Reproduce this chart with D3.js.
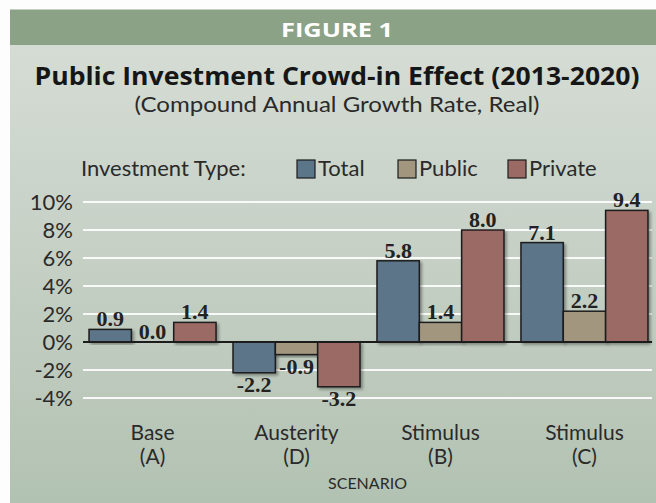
<!DOCTYPE html>
<html><head><meta charset="utf-8">
<script src="https://cdn.jsdelivr.net/npm/d3@7"></script>
<style>html,body{margin:0;padding:0;background:#fdfdfd;}svg{display:block;}</style>
</head><body>
<svg id="chart" width="656" height="503"></svg>
<script>
const categoryNames = ["Base", "Austerity", "Stimulus", "Stimulus"];
const categoryCodes = ["(A)", "(D)", "(B)", "(C)"];
const seriesNames = ["Total", "Public", "Private"];
const totalValues = [0.9, -2.2, 5.8, 7.1];
const publicValues = [0.0, -0.9, 1.4, 2.2];
const privateValues = [1.4, -3.2, 8.0, 9.4];
const yTickValues = [-4, -2, 0, 2, 4, 6, 8, 10];
const seriesColors = ["#5b7589", "#a2967f", "#9b6a65"];

const seriesValues = [totalValues, publicValues, privateValues];
const svg = d3.select("#chart");
const defs = svg.append("defs");
const grad = defs.append("linearGradient").attr("id","bg").attr("x1",0).attr("y1",0).attr("x2",0).attr("y2",1);
grad.append("stop").attr("offset","0%").attr("stop-color","#d7ded7");
grad.append("stop").attr("offset","50%").attr("stop-color","#c6d0c5");
grad.append("stop").attr("offset","100%").attr("stop-color","#b2c2b2");
const f = defs.append("filter").attr("id","sh").attr("x","-20%").attr("y","-20%").attr("width","140%").attr("height","140%");
f.append("feDropShadow").attr("dx",2).attr("dy",2).attr("stdDeviation",1.5).attr("flood-color","#000").attr("flood-opacity",0.35);

// panel
svg.append("rect").attr("x",10).attr("y",10).attr("width",646).attr("height",493).attr("fill","url(#bg)");
svg.append("rect").attr("x",10).attr("y",9.5).attr("width",646).attr("height",35.5).attr("fill","#8ca287");

const cx = 337;
const sans = "Lato, 'Open Sans', sans-serif";
svg.append("text").attr("x",cx).attr("y",37).attr("text-anchor","middle")
  .attr("font-family","'Open Sans', sans-serif").attr("font-weight",700).attr("font-size",20)
  .attr("fill","#fff").attr("textLength",112).attr("lengthAdjust","spacingAndGlyphs").text("FIGURE 1");
svg.append("text").attr("x",cx).attr("y",85).attr("text-anchor","middle")
  .attr("font-family","'Open Sans', sans-serif").attr("font-weight",700).attr("font-size",25)
  .attr("fill","#161616").attr("textLength",605).attr("lengthAdjust","spacingAndGlyphs")
  .text("Public Investment Crowd-in Effect (2013-2020)");
svg.append("text").attr("x",cx).attr("y",112).attr("text-anchor","middle")
  .attr("font-family",sans).attr("font-size",21).attr("fill","#2a2a2a")
  .attr("textLength",405).attr("lengthAdjust","spacingAndGlyphs")
  .text("(Compound Annual Growth Rate, Real)");

// scales
const y = d3.scaleLinear().domain([-4, 10]).range([398, 202]);
const x0 = d3.scaleBand().domain(d3.range(categoryNames.length)).range([83, 654]).paddingInner(0.118).paddingOuter(0.042);
const x1 = d3.scaleBand().domain(d3.range(seriesNames.length)).range([0, x0.bandwidth()]);
const gridX0 = 83, gridX1 = 652;

// grid
const yAxis = d3.axisLeft(y).tickValues(yTickValues).tickSize(0).tickPadding(10).tickFormat(d => d + "%");
const ga = svg.append("g").attr("transform",`translate(${gridX0},0)`).call(yAxis);
ga.select(".domain").remove();
ga.selectAll("text").attr("font-family",sans).attr("font-size",22).attr("fill","#2a2a2a").attr("dy","0.35em");
svg.append("g").selectAll("line").data(yTickValues.filter(d => d !== 0)).join("line")
  .attr("x1",gridX0).attr("x2",gridX1).attr("y1",d=>y(d)).attr("y2",d=>y(d))
  .attr("stroke","#fff").attr("stroke-width",1.8).attr("opacity",0.9);

// bars
const groups = svg.append("g").selectAll("g").data(d3.range(categoryNames.length)).join("g")
  .attr("transform", i => `translate(${x0(i)},0)`);
groups.selectAll("rect").data(i => seriesValues.map((s, j) => ({j, v: s[i]}))).join("rect")
  .attr("x", d => x1(d.j)).attr("width", x1.bandwidth())
  .attr("y", d => y(Math.max(0, d.v))).attr("height", d => Math.abs(y(d.v) - y(0)))
  .attr("fill", d => seriesColors[d.j]).attr("stroke","#1c1c1c").attr("stroke-width",1.5)
  .attr("filter","url(#sh)");

// zero line
svg.append("line").attr("x1",gridX0).attr("x2",gridX1).attr("y1",y(0)).attr("y2",y(0))
  .attr("stroke","#1c1c1c").attr("stroke-width",2);

// value labels
groups.selectAll("text.val").data(i => seriesValues.map((s, j) => ({j, v: s[i]}))).join("text")
  .attr("class","val")
  .attr("x", d => x1(d.j) + x1.bandwidth()/2)
  .attr("y", d => d.v >= 0 ? y(d.v) - 3 : y(d.v) + 19)
  .attr("text-anchor","middle").attr("font-family","'Liberation Serif', serif").attr("font-weight",700)
  .attr("font-size",22).attr("fill","#222")
  .text(d => d.v.toFixed(1));

// legend
const lg = svg.append("g");
lg.append("text").attr("x",81).attr("y",176).attr("font-family",sans).attr("font-size",22).attr("fill","#2a2a2a").text("Investment Type:");
const legendX = [297, 398, 508];
seriesNames.forEach((n, j) => {
  lg.append("rect").attr("x",legendX[j]).attr("y",160).attr("width",18).attr("height",18)
    .attr("fill",seriesColors[j]).attr("stroke","#1c1c1c").attr("stroke-width",1.2);
  lg.append("text").attr("x",legendX[j]+21).attr("y",176).attr("font-family",sans).attr("font-size",22).attr("fill","#2a2a2a").text(n);
});

// category labels
const cat = svg.append("g").selectAll("g").data(d3.range(categoryNames.length)).join("g");
cat.append("text").attr("x", i => x0(i) + x0.bandwidth()/2).attr("y",440).attr("text-anchor","middle")
  .attr("font-family",sans).attr("font-size",21).attr("fill","#2a2a2a").text(i => categoryNames[i]);
cat.append("text").attr("x", i => x0(i) + x0.bandwidth()/2).attr("y",464).attr("text-anchor","middle")
  .attr("font-family",sans).attr("font-size",21).attr("fill","#2a2a2a").text(i => categoryCodes[i]);
svg.append("text").attr("x",(gridX0+gridX1)/2).attr("y",489).attr("text-anchor","middle")
  .attr("font-family",sans).attr("font-size",16).attr("fill","#2a2a2a").text("SCENARIO");
</script>
</body></html>
